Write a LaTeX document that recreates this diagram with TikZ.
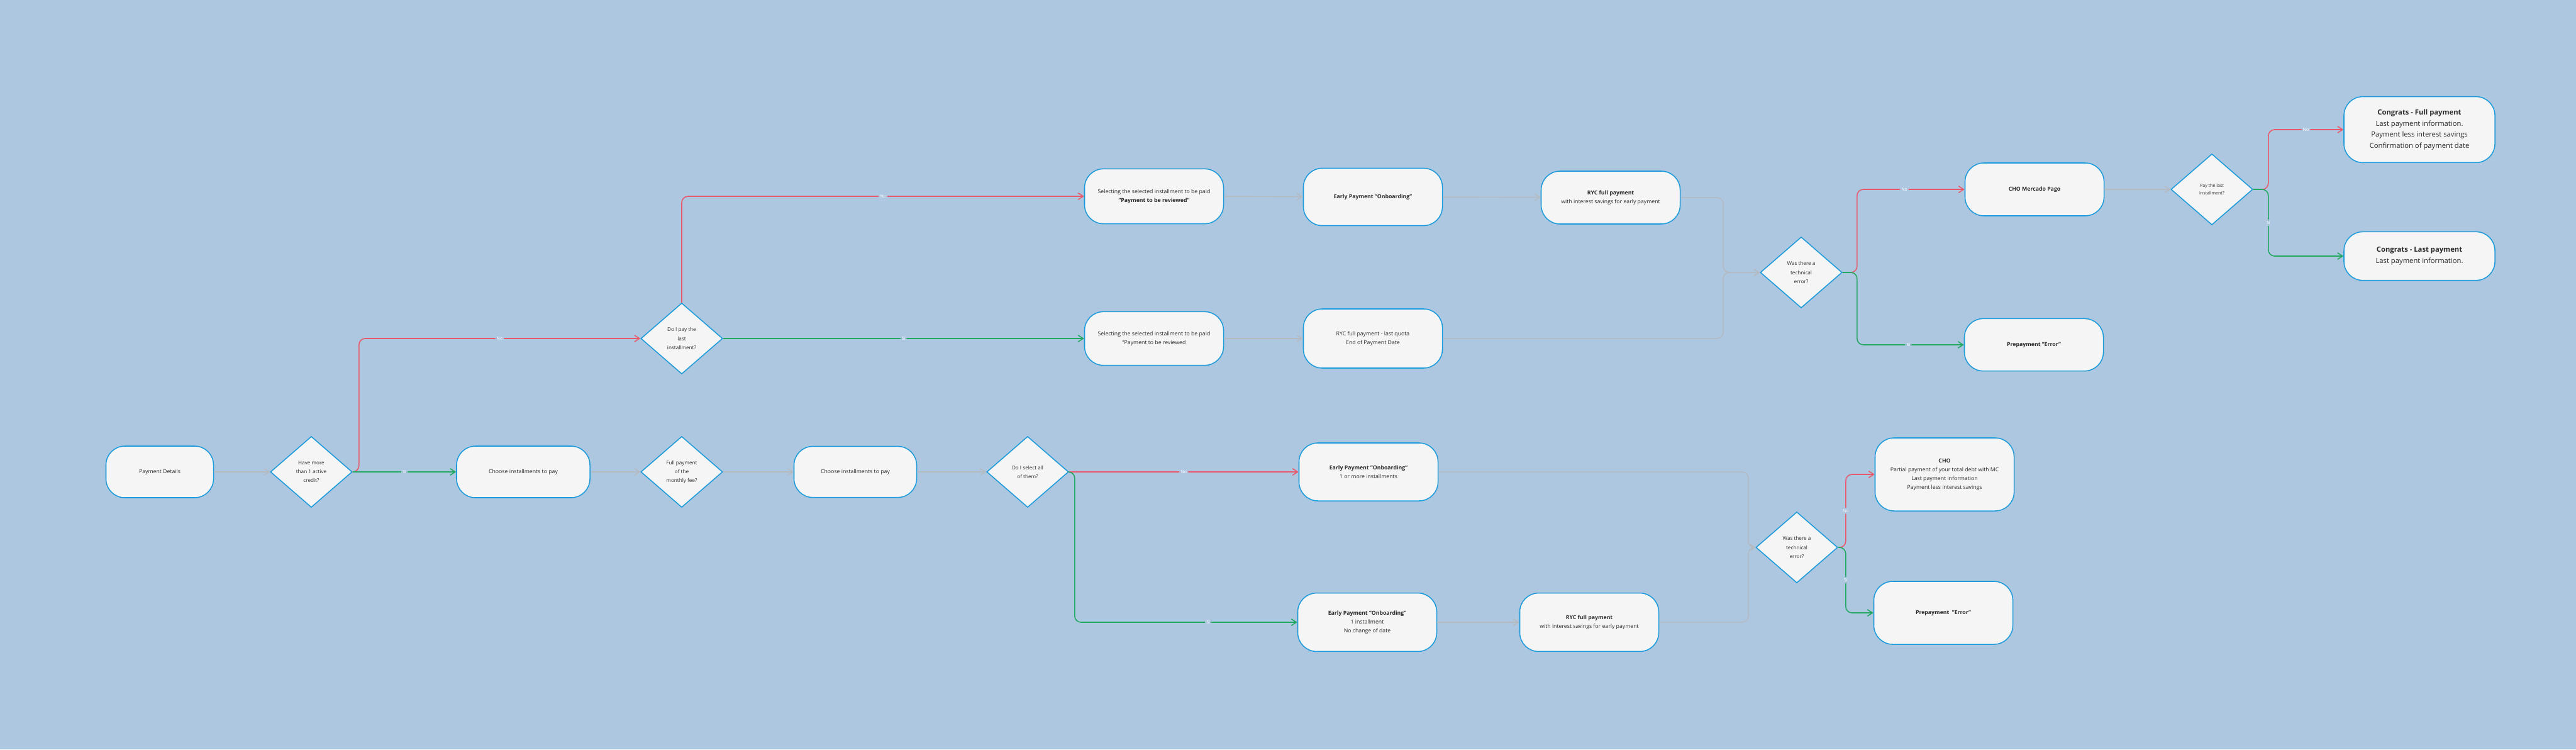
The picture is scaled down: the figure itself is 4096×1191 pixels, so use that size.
\documentclass[tikz,border=0pt]{standalone}
\usepackage{fontspec}
\setmainfont{Open Sans}
\usetikzlibrary{shapes.geometric,arrows.meta}
\definecolor{bgblue}{HTML}{ADC7E0}
\definecolor{edgeblue}{HTML}{1E9BDA}
\definecolor{boxfill}{HTML}{F5F5F5}
\definecolor{noRed}{HTML}{E8596B}
\definecolor{siGreen}{HTML}{22A861}
\definecolor{flowgrey}{HTML}{B5B9C0}
\definecolor{txtgrey}{HTML}{2A2A2A}
\tikzset{
  box/.style={draw=edgeblue, line width=1.1pt, fill=boxfill, rounded corners=0.75cm,
    minimum width=5.525cm, align=center, text=txtgrey, inner sep=2pt,
    font=\fontsize{6.2}{10}\selectfont},
  decision/.style={diamond, draw=edgeblue, line width=1.1pt, fill=boxfill,
    minimum width=3.25cm, minimum height=2.82cm, inner sep=0pt, align=center,
    text=txtgrey, font=\fontsize{5.8}{10}\selectfont},
  greyline/.style={draw=flowgrey, line width=1pt, rounded corners=0.25cm,
    -{Straight Barb[length=2mm,width=2.6mm]}},
  noline/.style={draw=noRed, line width=1.1pt, rounded corners=0.25cm,
    -{Straight Barb[length=2mm,width=2.6mm]}},
  siline/.style={draw=siGreen, line width=1.1pt, rounded corners=0.25cm,
    -{Straight Barb[length=2mm,width=2.6mm]}},
  tag/.style={fill=bgblue, text=white, inner sep=1.5pt, font=\fontsize{5}{6}\selectfont}
}
\begin{document}
\begin{tikzpicture}[x=0.025cm, y=-0.025cm]
  % background
  \fill[bgblue] (0,0) rectangle (4096,1191);

  % main row
  \node[box, minimum width=4.275cm, minimum height=2.05cm] (details) at (254,750) {Payment Details};
  \node[decision] (have) at (495,750) {Have more\\than 1 active\\credit?};
  \node[box, minimum width=5.3cm, minimum height=2.05cm] (choose1) at (832,750) {Choose installments to pay};
  \node[decision] (fullfee) at (1084,750) {Full payment\\of the\\monthly fee?};
  \node[box, minimum width=4.875cm, minimum height=2.03cm] (choose2) at (1360,750) {Choose installments to pay};
  \node[decision] (selall) at (1634,750) {Do I select all\\of them?};
  \node[box, minimum height=2.3cm] (onbmore) at (2176,750) {\textbf{Early Payment "Onboarding"}\\1 or more installments};
  \node[box, minimum height=2.32cm] (onbone) at (2174,989) {\textbf{Early Payment "Onboarding"}\\1 installment\\No change of date};
  \node[box, minimum height=2.32cm] (rycbot) at (2527,989) {\textbf{RYC full payment}\\with interest savings for early payment};
  \coordinate (jbot) at (2780,870);
  \node[decision] (errbot) at (2857,870) {Was there a\\technical\\error?};
  \node[box, minimum height=2.9cm] (chobot) at (3092,754) {\textbf{CHO}\\Partial payment of your total debt with MC\\Last payment information\\Payment less interest savings};
  \node[box, minimum height=2.5cm] (prebot) at (3090,974) {\textbf{Prepayment\ \ "Error"}};

  % upper branch
  \node[decision] (dolast) at (1084,538) {Do I pay the\\last\\installment?};
  \node[box, minimum height=2.18cm] (seltop) at (1835,312) {Selecting the selected installment to be paid\\\textbf{"Payment to be reviewed"}};
  \node[box, minimum height=2.13cm] (selbot) at (1835,538) {Selecting the selected installment to be paid\\"Payment to be reviewed};
  \node[box, minimum height=2.28cm] (onbtop) at (2183,313) {\textbf{Early Payment "Onboarding"}};
  \node[box, minimum height=2.1cm] (ryctop) at (2561,314) {\textbf{RYC full payment}\\with interest savings for early payment};
  \node[box, minimum height=2.35cm] (ryclast) at (2183,538) {RYC full payment - last quota\\End of Payment Date};
  \coordinate (jtop) at (2740,433);
  \node[decision] (errtop) at (2864,433) {Was there a\\technical\\error?};
  \node[box, minimum height=2.1cm] (cho) at (3235,301) {\textbf{CHO Mercado Pago}};
  \node[box, minimum height=2.08cm] (pretop) at (3234,548) {\textbf{Prepayment "Error"}};
  \node[decision, font=\fontsize{5}{8.3}\selectfont] (paylast) at (3517,301) {Pay the last\\installment?};
  \node[box, minimum width=6cm, minimum height=2.62cm, font=\fontsize{8}{12.6}\selectfont] (congfull) at (3847,206) {\textbf{Congrats - Full payment}\\Last payment information.\\Payment less interest savings\\Confirmation of payment date};
  \node[box, minimum width=6cm, minimum height=1.93cm, font=\fontsize{8}{12.6}\selectfont] (conglast) at (3847,407) {\textbf{Congrats - Last payment}\\Last payment information.};

  % grey flow
  \draw[greyline] (details) -- (have);
  \draw[greyline] (choose1) -- (fullfee);
  \draw[greyline] (fullfee) -- (choose2);
  \draw[greyline] (choose2) -- (selall);
  \draw[greyline] (seltop) -- (onbtop);
  \draw[greyline] (onbtop) -- (ryctop);
  \draw[greyline] (selbot) -- (ryclast);
  \draw[greyline] (ryctop.east) -| (jtop) -- (errtop.west);
  \draw[greyline] (ryclast.east) -| (jtop) -- (errtop.west);
  \draw[greyline] (onbone) -- (rycbot);
  \draw[greyline] (onbmore.east) -| (jbot) -- (errbot.west);
  \draw[greyline] (rycbot.east) -| (jbot) -- (errbot.west);
  \draw[greyline] (cho) -- (paylast);

  % answers: No (red) / Si (green)
  \draw[noline] (have.east) -- ++(10,0) |- node[tag, pos=0.75] {No} (dolast.west);
  \draw[siline] (have) -- node[tag] {Sí} (choose1);
  \draw[noline] (dolast.north) |- node[tag, pos=0.75] {No} (seltop.west);
  \draw[siline] (dolast) -- node[tag] {Sí} (selbot);
  \draw[noline] (selall) -- node[tag] {No} (onbmore);
  \draw[siline] (selall.east) -- ++(9,0) |- node[tag, pos=0.8] {Sí} (onbone.west);
  \draw[noline] (errtop.east) -- ++(23,0) |- node[tag, pos=0.72] {No} (cho.west);
  \draw[siline] (errtop.east) -- ++(23,0) |- node[tag, pos=0.74] {Sí} (pretop.west);
  \draw[noline] (errbot.east) -- ++(12,0) |- node[tag, pos=0.25] {No} (chobot.west);
  \draw[siline] (errbot.east) -- ++(12,0) |- node[tag, pos=0.25] {Sí} (prebot.west);
  \draw[noline] (paylast.east) -- ++(24,0) |- node[tag, pos=0.75] {No} (congfull.west);
  \draw[siline] (paylast.east) -- ++(24,0) |- node[tag, pos=0.25] {Sí} (conglast.west);
\end{tikzpicture}
\end{document}
